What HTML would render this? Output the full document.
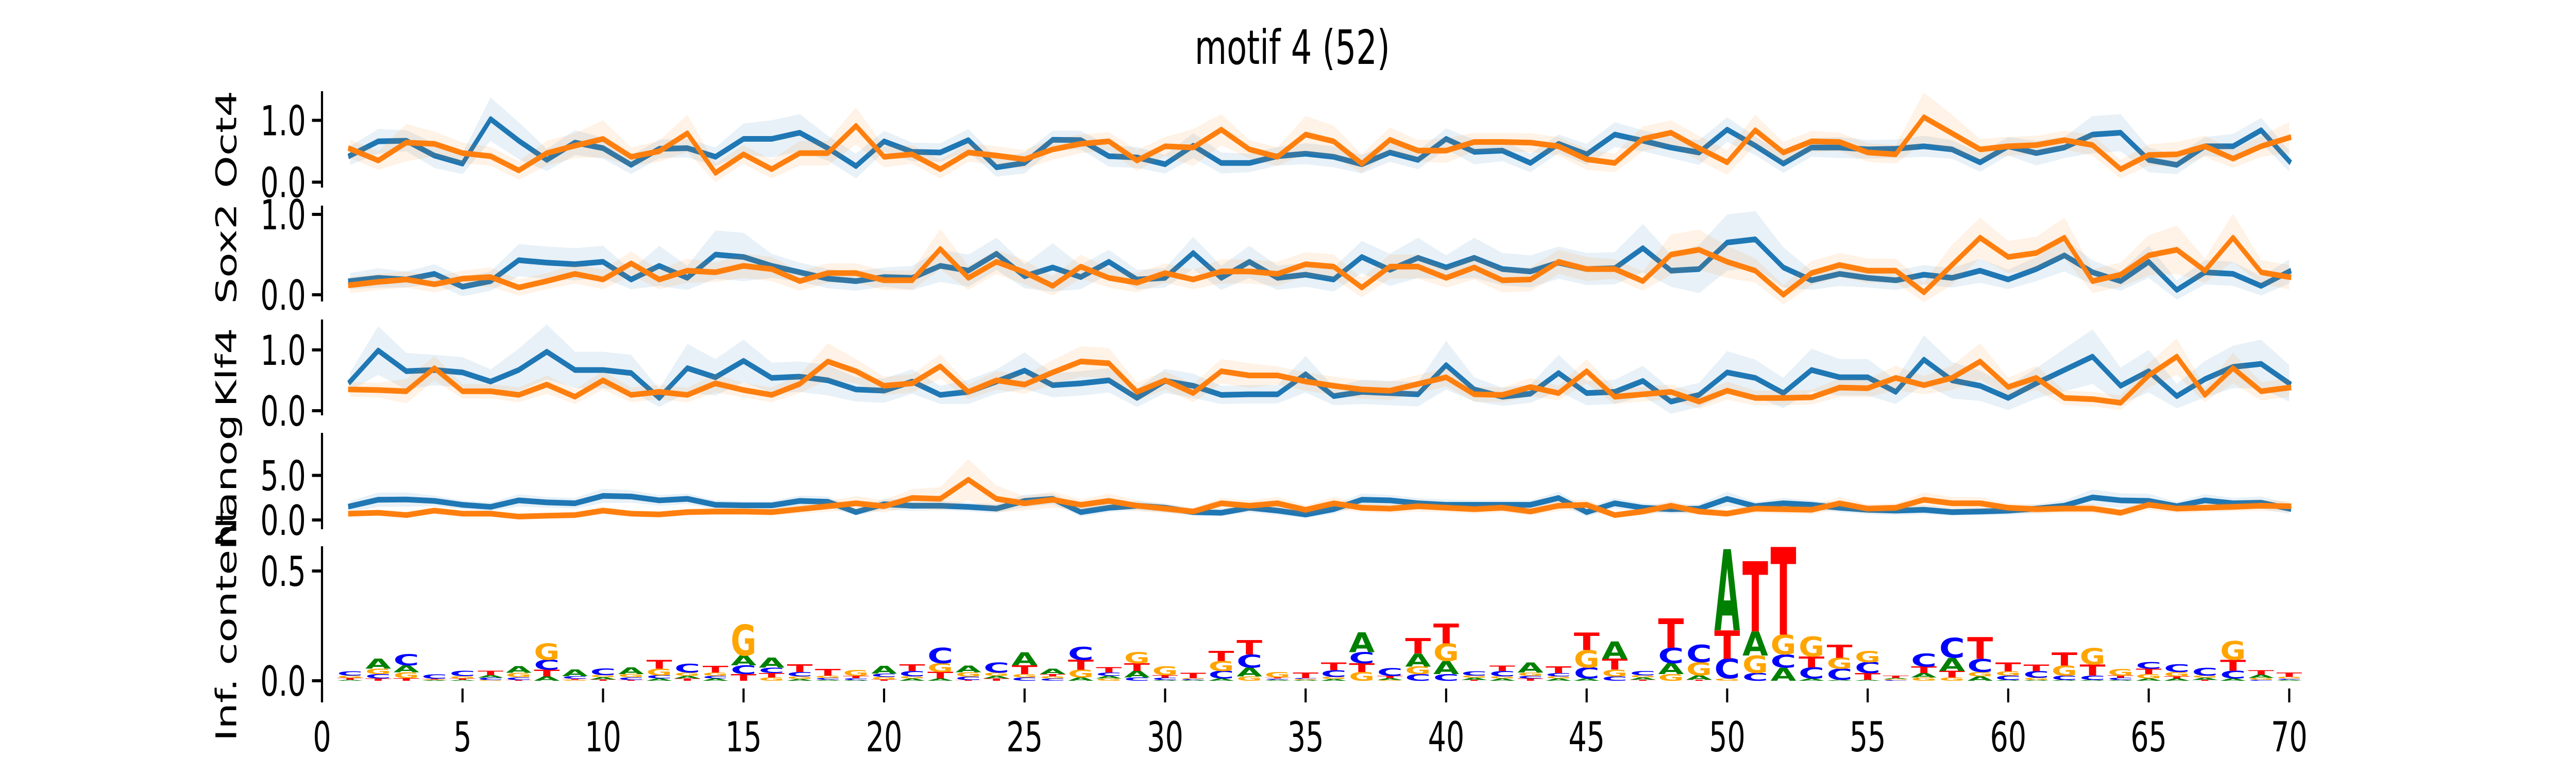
<!DOCTYPE html>
<html><head><meta charset="utf-8"><style>
html,body{margin:0;padding:0;background:#fff;width:100%;height:100%;overflow:hidden;}
svg{display:block;width:100vw;height:100vh;font-family:"DejaVu Sans","Liberation Sans",sans-serif;}
</style></head><body>
<svg id="chart" viewBox="0 0 7200 1500" preserveAspectRatio="none" xmlns="http://www.w3.org/2000/svg">
<rect width="7200" height="1500" fill="#fff"/>
<text x="3612" y="124" font-size="92" text-anchor="middle" fill="#000">motif 4 (52)</text>
<g id="layer"></g>
</svg>
<script>
const positions = Array.from({length:70},(_, i)=>i+1);
const xTicks = [0,5,10,15,20,25,30,35,40,45,50,55,60,65,70];

const oct4Blue = [0.43,0.66,0.67,0.43,0.30,1.02,0.67,0.36,0.64,0.55,0.28,0.54,0.55,0.41,0.70,0.70,0.80,0.55,0.26,0.66,0.49,0.48,0.68,0.24,
0.31,0.685,0.68,0.42,0.40,0.29,0.59,0.31,0.31,0.42,0.46,0.41,0.29,0.48,0.36,0.70,0.49,0.51,0.31,0.62,0.45,0.77,0.67,
0.56,0.48,0.85,0.59,0.30,0.56,0.56,0.53,0.54,0.58,0.53,0.32,0.58,0.47,0.56,0.77,0.80,0.36,0.28,0.58,0.58,0.84,0.34];
const oct4Orange = [0.54,0.35,0.64,0.62,0.47,0.42,0.19,0.47,0.59,0.70,0.41,0.50,0.79,0.15,0.45,0.21,0.47,0.47,0.91,0.41,0.45,0.21,0.48,0.43,
0.37,0.53,0.62,0.66,0.35,0.58,0.56,0.85,0.53,0.41,0.77,0.66,0.30,0.685,0.51,0.51,0.65,0.65,0.64,0.58,0.37,0.31,0.70,
0.80,0.55,0.32,0.84,0.48,0.66,0.65,0.48,0.45,1.05,0.79,0.53,0.58,0.60,0.68,0.60,0.21,0.44,0.45,0.58,0.38,0.58,0.72];
const oct4ErrBlue = [0.15,0.2,0.17,0.2,0.17,0.35,0.3,0.18,0.2,0.17,0.15,0.15,0.15,0.15,0.25,0.3,0.3,0.2,0.2,0.17,0.15,0.15,0.18,0.15,
0.17,0.15,0.15,0.17,0.17,0.15,0.2,0.17,0.15,0.15,0.17,0.17,0.15,0.15,0.15,0.17,0.2,0.17,0.15,0.15,0.17,0.2,0.17,
0.17,0.2,0.2,0.15,0.15,0.15,0.17,0.15,0.15,0.17,0.15,0.15,0.15,0.2,0.17,0.3,0.3,0.2,0.15,0.15,0.2,0.2,0.17];
const oct4ErrOrange = [0.15,0.15,0.3,0.2,0.17,0.15,0.15,0.2,0.2,0.3,0.15,0.17,0.3,0.15,0.15,0.15,0.2,0.2,0.3,0.17,0.15,0.15,0.15,0.15,
0.15,0.17,0.15,0.15,0.17,0.15,0.3,0.25,0.15,0.15,0.3,0.25,0.15,0.2,0.17,0.2,0.15,0.15,0.15,0.15,0.17,0.15,0.2,
0.2,0.2,0.2,0.25,0.17,0.17,0.15,0.15,0.15,0.4,0.3,0.17,0.15,0.15,0.15,0.17,0.15,0.17,0.2,0.17,0.15,0.17,0.25];

const sox2Blue = [0.17,0.21,0.19,0.26,0.10,0.17,0.43,0.40,0.38,0.41,0.19,0.36,0.21,0.50,0.47,0.36,0.28,0.20,0.17,0.22,0.21,0.36,0.30,0.51,
0.23,0.34,0.22,0.41,0.19,0.21,0.52,0.21,0.41,0.21,0.25,0.19,0.47,0.31,0.46,0.34,0.46,0.32,0.29,0.40,0.32,0.33,0.58,
0.30,0.32,0.65,0.69,0.34,0.18,0.26,0.21,0.18,0.25,0.21,0.30,0.19,0.32,0.49,0.28,0.17,0.41,0.06,0.28,0.26,0.11,0.29];
const sox2Orange = [0.12,0.16,0.19,0.13,0.20,0.22,0.09,0.17,0.26,0.19,0.39,0.19,0.30,0.28,0.36,0.32,0.17,0.27,0.27,0.18,0.18,0.57,0.21,0.41,
0.28,0.11,0.35,0.21,0.15,0.27,0.19,0.29,0.29,0.26,0.38,0.35,0.09,0.35,0.35,0.21,0.34,0.18,0.19,0.41,0.32,0.32,0.17,
0.50,0.56,0.41,0.30,0.00,0.27,0.37,0.30,0.30,0.03,0.37,0.71,0.47,0.52,0.71,0.17,0.25,0.49,0.56,0.30,0.71,0.28,0.22];
const sox2ErrBlue = [0.1,0.12,0.1,0.12,0.12,0.12,0.2,0.2,0.2,0.2,0.12,0.25,0.15,0.3,0.3,0.15,0.12,0.12,0.12,0.12,0.15,0.2,0.2,0.2,
0.15,0.3,0.15,0.15,0.12,0.12,0.2,0.15,0.2,0.15,0.15,0.15,0.2,0.2,0.25,0.15,0.25,0.2,0.2,0.2,0.2,0.2,0.3,
0.2,0.3,0.35,0.35,0.25,0.12,0.15,0.12,0.12,0.12,0.12,0.15,0.12,0.15,0.2,0.15,0.12,0.2,0.12,0.15,0.15,0.12,0.15];
const sox2ErrOrange = [0.1,0.1,0.1,0.1,0.1,0.12,0.1,0.1,0.12,0.12,0.15,0.12,0.15,0.12,0.15,0.15,0.12,0.12,0.12,0.12,0.12,0.25,0.15,0.15,
0.15,0.12,0.15,0.12,0.12,0.12,0.12,0.15,0.15,0.15,0.15,0.15,0.12,0.15,0.15,0.12,0.15,0.15,0.15,0.15,0.15,0.12,0.12,
0.25,0.25,0.2,0.15,0.12,0.15,0.15,0.15,0.15,0.12,0.25,0.25,0.2,0.2,0.25,0.15,0.15,0.25,0.3,0.15,0.3,0.15,0.15];

const klf4Blue = [0.48,0.99,0.65,0.67,0.63,0.48,0.67,0.97,0.67,0.67,0.62,0.21,0.70,0.55,0.82,0.54,0.56,0.50,0.35,0.33,0.48,0.26,0.31,0.48,
0.66,0.42,0.45,0.50,0.21,0.49,0.41,0.26,0.27,0.27,0.60,0.24,0.31,0.29,0.27,0.75,0.35,0.23,0.28,0.62,0.29,0.31,0.49,
0.15,0.26,0.63,0.54,0.29,0.67,0.55,0.55,0.31,0.84,0.50,0.41,0.21,0.45,0.67,0.89,0.41,0.65,0.24,0.52,0.72,0.77,0.45];
const klf4Orange = [0.35,0.34,0.32,0.70,0.32,0.32,0.26,0.43,0.23,0.50,0.26,0.31,0.26,0.45,0.34,0.26,0.44,0.81,0.65,0.41,0.45,0.73,0.31,0.50,
0.43,0.63,0.81,0.78,0.31,0.50,0.29,0.65,0.58,0.58,0.48,0.41,0.35,0.33,0.44,0.55,0.27,0.26,0.39,0.29,0.65,0.23,0.27,
0.31,0.15,0.33,0.21,0.21,0.22,0.38,0.37,0.54,0.42,0.54,0.81,0.39,0.54,0.21,0.19,0.13,0.58,0.89,0.26,0.70,0.32,0.38];
const klf4ErrBlue = [0.15,0.4,0.3,0.25,0.25,0.2,0.35,0.45,0.3,0.3,0.3,0.15,0.4,0.3,0.35,0.25,0.25,0.25,0.2,0.2,0.2,0.15,0.2,0.2,
0.3,0.2,0.2,0.2,0.15,0.2,0.2,0.15,0.15,0.15,0.3,0.15,0.2,0.2,0.2,0.4,0.2,0.15,0.15,0.3,0.2,0.2,0.25,
0.2,0.2,0.35,0.3,0.25,0.35,0.3,0.3,0.2,0.4,0.3,0.25,0.2,0.25,0.35,0.45,0.3,0.35,0.2,0.3,0.35,0.4,0.3];
const klf4ErrOrange = [0.12,0.12,0.2,0.2,0.12,0.12,0.12,0.15,0.12,0.15,0.12,0.12,0.12,0.15,0.12,0.12,0.15,0.3,0.2,0.15,0.15,0.2,0.12,0.15,
0.15,0.2,0.25,0.25,0.15,0.15,0.15,0.2,0.2,0.15,0.15,0.15,0.15,0.15,0.15,0.15,0.12,0.12,0.15,0.12,0.2,0.12,0.12,
0.12,0.12,0.15,0.12,0.12,0.12,0.15,0.15,0.2,0.15,0.2,0.3,0.15,0.2,0.12,0.12,0.12,0.2,0.3,0.12,0.25,0.15,0.15];

const nanogBlue = [1.54,2.27,2.30,2.14,1.70,1.47,2.20,1.97,1.87,2.70,2.63,2.20,2.37,1.70,1.64,1.64,2.14,2.04,0.88,1.77,1.60,1.60,1.47,1.27,
2.14,2.37,0.88,1.37,1.60,1.37,0.88,0.81,1.37,1.05,0.61,1.21,2.27,2.20,1.87,1.70,1.70,1.70,1.70,2.47,0.88,1.87,1.37,
1.21,1.27,2.37,1.54,1.87,1.70,1.37,1.14,1.05,1.14,0.88,0.95,1.05,1.27,1.60,2.53,2.20,2.14,1.54,2.20,1.87,1.94,1.27];
const nanogOrange = [0.71,0.81,0.55,1.05,0.71,0.71,0.38,0.48,0.55,1.05,0.71,0.62,0.88,0.95,0.95,0.88,1.21,1.54,1.87,1.54,2.47,2.37,4.52,2.37,
1.87,2.27,1.70,2.14,1.60,1.27,0.95,1.87,1.60,1.87,1.14,1.87,1.37,1.27,1.54,1.37,1.21,1.37,0.95,1.60,1.70,0.55,0.95,
1.60,0.95,0.71,1.27,1.21,1.14,1.87,1.27,1.37,2.27,1.87,1.87,1.37,1.21,1.27,1.27,0.81,1.70,1.27,1.37,1.47,1.60,1.54];
const nanogErrBlue = [0.6,0.8,0.8,0.6,0.5,0.5,0.7,0.6,0.6,0.8,0.7,0.6,0.6,0.5,0.5,0.5,0.6,0.6,0.4,0.6,0.6,0.5,0.5,0.5,
0.7,0.6,0.5,0.5,0.5,0.5,0.4,0.4,0.5,0.5,0.4,0.5,0.7,0.6,0.6,0.6,0.5,0.5,0.5,0.7,0.5,0.6,0.5,
0.5,0.5,0.8,0.5,0.6,0.5,0.5,0.5,0.5,0.5,0.4,0.4,0.5,0.5,0.6,0.9,0.8,0.8,0.5,0.7,0.6,0.7,0.6];
const nanogErrOrange = [0.3,0.3,0.3,0.4,0.3,0.3,0.3,0.3,0.3,0.4,0.3,0.3,0.4,0.4,0.4,0.4,0.5,0.6,0.8,0.7,1.0,1.3,2.3,1.5,
0.8,0.9,0.6,0.8,0.6,0.5,0.4,0.6,0.6,0.7,0.5,0.7,0.5,0.5,0.6,0.5,0.5,0.5,0.4,0.6,0.6,0.3,0.4,
0.6,0.4,0.4,0.5,0.5,0.5,0.7,0.5,0.5,0.8,0.7,0.7,0.5,0.5,0.5,0.5,0.4,0.6,0.5,0.5,0.5,0.6,0.6];

const logoA = [.005,.045,.032,.003,.005,.012,.03,.02,.03,.01,.03,.01,.012,.01,.045,.045,.008,.005,.004,.035,.01,.01,.03,.012,.06,.025,.015,.012,.03,.004,.004,.01,.04,.005,.004,.008,.09,.008,.06,.06,.01,.01,.045,.01,.01,.08,.01,.05,.02,.37,.11,.06,.01,.005,.005,.005,.02,.06,.02,.004,.004,.004,.004,.004,.01,.01,.01,.01,.015,.005];
const logoC = [.02,.02,.05,.02,.025,.01,.012,.045,.012,.03,.012,.015,.04,.012,.04,.025,.02,.008,.008,.015,.025,.07,.015,.045,.015,.01,.06,.015,.015,.01,.004,.035,.06,.005,.005,.03,.05,.035,.03,.03,.02,.025,.012,.015,.05,.02,.02,.07,.08,.09,.035,.06,.05,.05,.05,.004,.06,.09,.06,.02,.03,.02,.02,.01,.03,.035,.035,.035,.005,.005];
const logoG = [.01,.025,.027,.003,.01,.004,.02,.075,.004,.01,.015,.03,.015,.015,.14,.015,.012,.01,.028,.012,.01,.04,.02,.015,.015,.01,.035,.01,.05,.04,.004,.045,.02,.025,.004,.01,.04,.004,.035,.08,.01,.01,.015,.01,.08,.03,.01,.03,.06,.01,.08,.09,.09,.05,.05,.004,.015,.015,.02,.02,.01,.045,.075,.03,.02,.02,.01,.085,.008,.008];
const logoT = [.008,.01,.012,.003,.006,.02,.004,.03,.005,.006,.004,.04,.01,.03,.03,.02,.035,.03,.01,.006,.03,.03,.004,.01,.04,.01,.045,.025,.035,.012,.025,.045,.065,.005,.025,.035,.04,.01,.07,.09,.004,.025,.01,.03,.08,.05,.005,.135,.005,.13,.32,.40,.05,.06,.03,.01,.03,.03,.10,.04,.03,.06,.05,.01,.025,.01,.004,.05,.02,.02];

const NS='http://www.w3.org/2000/svg';
const layer=document.getElementById('layer');
const X0=900, XS=78.55;
function xPos(v){return X0+v*XS;}
function mk(tag,attrs,parent){const e=document.createElementNS(NS,tag);for(const k in attrs)e.setAttribute(k,attrs[k]);(parent||layer).appendChild(e);return e;}

const panels=[
 {name:'oct4',label:'Oct4',top:177,bot:364,zero:353.5,scale:120,ticks:[0,1],b:oct4Blue,o:oct4Orange,eb:oct4ErrBlue,eo:oct4ErrOrange},
 {name:'sox2',label:'Sox2',top:399,bot:585,zero:572,scale:156,ticks:[0,1],b:sox2Blue,o:sox2Orange,eb:sox2ErrBlue,eo:sox2ErrOrange},
 {name:'klf4',label:'Klf4',top:620,bot:806,zero:797,scale:118,ticks:[0,1],b:klf4Blue,o:klf4Orange,eb:klf4ErrBlue,eo:klf4ErrOrange},
 {name:'nanog',label:'Nanog',top:840,bot:1027,zero:1009,scale:17.3,ticks:[0,5],b:nanogBlue,o:nanogOrange,eb:nanogErrBlue,eo:nanogErrOrange}
];
const logoPanel={name:'logo',label:'Inf. content',top:1060,bot:1363,zero:1321,scale:426,ticks:[0,0.5]};

function drawAxis(p){
  const g=mk('g',{});
  
  
  const sp=mk('line',{x1:X0,x2:X0,y1:p.top,y2:p.bot,stroke:'#000','stroke-width':6},g);
  
  
  p.ticks.forEach(t=>{
    const y=p.zero-t*p.scale;
    const tk=mk('line',{x1:X0-28,x2:X0,y1:y,y2:y,stroke:'#000','stroke-width':6},g);
    
    
    const tl=mk('text',{x:X0-45,y:y+29,'font-size':80,'text-anchor':'end',fill:'#000'},g);
    tl.textContent=t.toFixed(1);
    
    
  });
  const cy=(p.top+p.bot)/2;
  const lab=mk('text',{x:0,y:0,'font-size':80,'text-anchor':'middle',fill:'#000',transform:`translate(660,${cy}) rotate(-90)`},g);
  lab.textContent=p.label;
  
  
}

function drawSeries(p,vals,errs,color,sname){
  const y=v=>p.zero-v*p.scale;
  const up=positions.map((x,i)=>xPos(x)+','+y(vals[i]+errs[i]));
  const lo=positions.map((x,i)=>xPos(x)+','+y(vals[i]-errs[i]));
  const band=mk('polygon',{points:up.concat(lo.reverse()).join(' '),fill:color,'fill-opacity':0.1,stroke:'none'});
  
  
  const pts=positions.map((x,i)=>xPos(x)+','+y(vals[i])).join(' ');
  const line=mk('polyline',{points:pts,fill:'none',stroke:color,'stroke-width':11,'stroke-linejoin':'round','stroke-linecap':'square'});
  
  
}

panels.forEach(p=>{
  drawAxis(p);
  drawSeries(p,p.b,p.eb,'#1f77b4','blue');
  drawSeries(p,p.o,p.eo,'#ff7f0e','orange');
});
drawAxis(logoPanel);

const letterColors={A:'#008000',C:'#0000ff',G:'#ffa500',T:'#ff0000'};
const logoG_=mk('g',{});


positions.forEach((pos,i)=>{
  const stack=[['A',logoA[i]],['C',logoC[i]],['G',logoG[i]],['T',logoT[i]]].sort((a,b)=>a[1]-b[1]);
  let base=logoPanel.zero;
  const w=72, xl=xPos(pos)-w/2;
  stack.forEach(([L,h])=>{
    const hp=h*logoPanel.scale;
    if(hp<0.3){return;}
    const g=mk('g',{transform:`translate(${xl},${base}) scale(1,${hp/73})`},logoG_);
    const t=mk('text',{x:0,y:0,'font-size':100,'font-weight':'bold',fill:letterColors[L],textLength:w,lengthAdjust:'spacingAndGlyphs'},g);
    t.textContent=L;
    
    
    base-=hp;
  });
});

xTicks.forEach(v=>{
  const x=xPos(v);
  const tk=mk('line',{x1:x,x2:x,y1:1336,y2:1363,stroke:'#000','stroke-width':6});
  
  
  const tl=mk('text',{x:x,y:1458,'font-size':80,'text-anchor':'middle',fill:'#000'});
  tl.textContent=String(v);
  
  
});
</script>
</body></html>
